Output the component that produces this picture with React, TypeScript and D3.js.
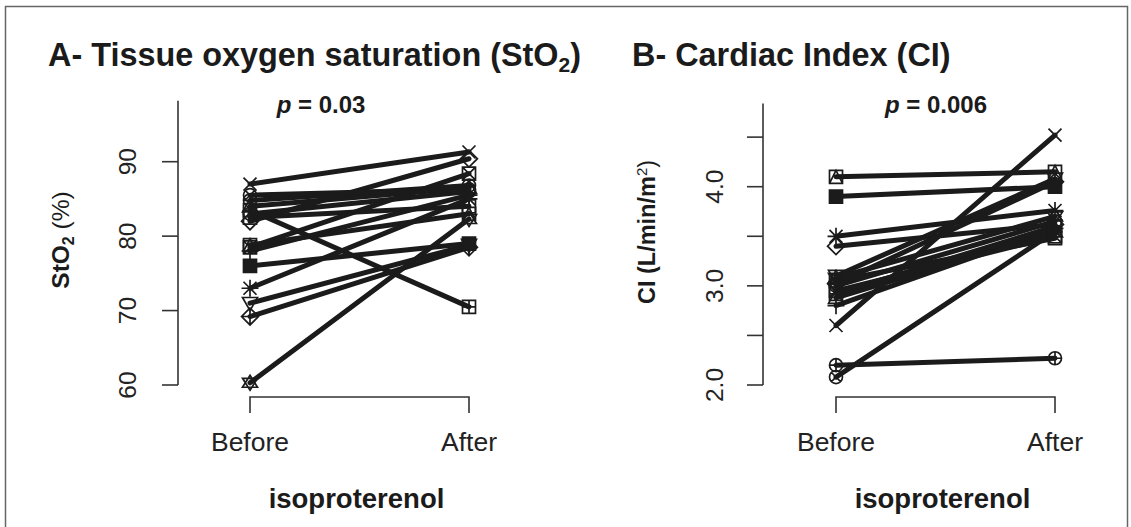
import { useEffect, useRef } from 'react';
import * as d3 from 'd3';

// conditions on the x axis
const conditions = ['Before', 'After'];

// A - tissue oxygen saturation (%), one entry per patient
const stoBefore = [82.5, 83.0, 84.0, 78.0, 87.0, 82.0, 71.0, 78.5, 73.0, 69.2, 84.8, 60.3, 83.5, 85.5, 78.8, 76.0];
const stoAfter = [84.0, 86.0, 86.5, 85.5, 91.3, 90.4, 78.8, 88.4, 85.0, 78.5, 86.8, 82.3, 70.5, 86.3, 83.0, 79.0];
const stoTicks = [60, 70, 80, 90];

// B - cardiac index (L/min/m2)
const ciBefore = [3.05, 3.0, 2.88, 2.8, 2.6, 3.4, 3.1, 2.95, 3.5, 3.02, 2.2, 3.08, 2.92, 2.08, 4.1, 3.9];
const ciAfter = [3.48, 3.65, 3.55, 3.58, 4.52, 3.62, 4.08, 3.5, 3.76, 4.05, 2.27, 3.7, 3.6, 3.55, 4.15, 4.0];
const ciTicks = [2, 2.5, 3, 3.5, 4, 4.5];
const ciTickLabels = ['2.0', '', '3.0', '', '4.0', ''];

// R plotting symbol per patient
const pchs = d3.range(16);

const FONT = '"Liberation Sans", Arial, Helvetica, sans-serif';
const INK = '#1b1b1b';

// outline of an R pch symbol centred on 0,0
const symbolPath = (pch, s) => {
  const sq = `M${-s},${-s}H${s}V${s}H${-s}Z`;
  const circ = `M${s},0A${s},${s} 0 1,1 ${-s},0A${s},${s} 0 1,1 ${s},0Z`;
  const t = s * 1.15;
  const triUp = `M0,${-t}L${t},${t * 0.75}L${-t},${t * 0.75}Z`;
  const triDown = `M0,${t}L${t},${-t * 0.75}L${-t},${-t * 0.75}Z`;
  const plus = `M${-s * 1.3},0H${s * 1.3}M0,${-s * 1.3}V${s * 1.3}`;
  const cross = `M${-s},${-s}L${s},${s}M${-s},${s}L${s},${-s}`;
  const d = s * 1.3;
  const diamond = `M0,${-d}L${d},0L0,${d}L${-d},0Z`;
  switch (pch) {
    case 0: return sq;
    case 1: return circ;
    case 2: return triUp;
    case 3: return plus;
    case 4: return cross;
    case 5: return diamond;
    case 6: return triDown;
    case 7: return sq + cross;
    case 8: return plus + cross;
    case 9: return diamond + `M${-d},0H${d}M0,${-d}V${d}`;
    case 10: return circ + `M${-s},0H${s}M0,${-s}V${s}`;
    case 11: return `M0,${-t}L${t},${t * 0.6}L${-t},${t * 0.6}Z` + `M0,${t}L${t},${-t * 0.6}L${-t},${-t * 0.6}Z`;
    case 12: return sq + `M${-s},0H${s}M0,${-s}V${s}`;
    case 13: return circ + `M${-s * 0.7},${-s * 0.7}L${s * 0.7},${s * 0.7}M${-s * 0.7},${s * 0.7}L${s * 0.7},${-s * 0.7}`;
    case 14: return sq + `M${-s},${s}L0,${-s}L${s},${s}`;
    default: return sq;
  }
};

const drawPanel = (g, opt) => {
  const { x, y, before, after, ticks, tickLabels, axisTop, axisX, tickLabelX } = opt;

  // y axis
  g.append('line')
    .attr('x1', axisX).attr('x2', axisX)
    .attr('y1', y(axisTop)).attr('y2', y(ticks[0]))
    .attr('stroke', '#333').attr('stroke-width', 1.6);
  g.selectAll('.ytick').data(ticks).enter().append('line')
    .attr('x1', axisX).attr('x2', axisX - 16)
    .attr('y1', d => y(d)).attr('y2', d => y(d))
    .attr('stroke', '#333').attr('stroke-width', 1.6);
  g.selectAll('.ylab').data(ticks).enter().append('text')
    .attr('transform', d => `translate(${tickLabelX},${y(d)}) rotate(-90)`)
    .attr('dy', '0.35em')
    .attr('text-anchor', 'middle')
    .attr('font-size', 24.5)
    .attr('fill', '#222')
    .text((d, i) => tickLabels[i]);

  // x axis
  const [x0, x1] = [x(0), x(1)];
  g.append('path')
    .attr('d', `M${x0},413V397H${x1}V413`)
    .attr('fill', 'none').attr('stroke', '#333').attr('stroke-width', 1.6);
  g.selectAll('.xlab').data(conditions).enter().append('text')
    .attr('x', (d, i) => x(i)).attr('y', 451)
    .attr('text-anchor', 'middle')
    .attr('font-size', 26.5)
    .attr('fill', '#222')
    .text(d => d);
  g.append('text')
    .attr('x', (x0 + x1) / 2 - 3).attr('y', 508)
    .attr('text-anchor', 'middle')
    .attr('font-size', 27.5).attr('font-weight', 'bold')
    .attr('fill', INK)
    .text('isoproterenol');

  // patient lines
  const line = d3.line().x((d, i) => x(i)).y(d => y(d));
  before.forEach((b, i) => {
    g.append('path')
      .datum([b, after[i]])
      .attr('d', line)
      .attr('fill', 'none')
      .attr('stroke', INK)
      .attr('stroke-width', 5)
      .attr('stroke-linecap', 'round');
  });

  // symbols at both ends
  before.forEach((b, i) => {
    [b, after[i]].forEach((v, k) => {
      g.append('path')
        .attr('transform', `translate(${x(k)},${y(v)})`)
        .attr('d', symbolPath(pchs[i], 6.5))
        .attr('fill', pchs[i] === 15 ? INK : 'none')
        .attr('stroke', INK)
        .attr('stroke-width', 1.7);
    });
  });
};

const App = () => {
  const svgRef = useRef();

  useEffect(() => {
    const svg = d3.select(svgRef.current);
    svg.selectAll('*').remove();

    svg.append('rect')
      .attr('x', 5.5).attr('y', 6.5)
      .attr('width', 1122).attr('height', 600)
      .attr('fill', 'none').attr('stroke', '#666').attr('stroke-width', 1.5);

    const g = svg.append('g').attr('font-family', FONT);

    // Panel A
    const xA = d3.scaleLinear().domain([0, 1]).range([250, 469]);
    const yA = d3.scaleLinear().domain([60, 90]).range([385, 161.7]);
    drawPanel(g, {
      x: xA, y: yA, before: stoBefore, after: stoAfter,
      ticks: stoTicks, tickLabels: stoTicks.map(String),
      axisTop: 98.2, axisX: 178, tickLabelX: 127,
    });

    const tA = g.append('text').attr('x', 48).attr('y', 66)
      .attr('font-size', 32.4).attr('font-weight', 'bold').attr('fill', INK);
    tA.append('tspan').text('A- Tissue oxygen saturation (StO');
    tA.append('tspan').attr('font-size', 21).attr('dy', 6).text('2');
    tA.append('tspan').attr('dy', -6).text(')');

    const pA = g.append('text').attr('x', 321).attr('y', 113)
      .attr('text-anchor', 'middle')
      .attr('font-size', 24).attr('font-weight', 'bold').attr('fill', INK);
    pA.append('tspan').attr('font-style', 'italic').text('p');
    pA.append('tspan').text(' = 0.03');

    const yl = g.append('text')
      .attr('transform', 'translate(60,240) rotate(-90)')
      .attr('dy', '0.35em')
      .attr('text-anchor', 'middle')
      .attr('font-size', 24.5).attr('font-weight', 'bold').attr('fill', INK);
    yl.append('tspan').text('StO');
    yl.append('tspan').attr('font-size', 16).attr('dy', 5).text('2');
    yl.append('tspan').attr('dy', -5).attr('font-weight', 'normal').text(' (%)');

    // Panel B
    const xB = d3.scaleLinear().domain([0, 1]).range([836, 1055]);
    const yB = d3.scaleLinear().domain([2, 4]).range([385, 186.7]);
    drawPanel(g, {
      x: xB, y: yB, before: ciBefore, after: ciAfter,
      ticks: ciTicks, tickLabels: ciTickLabels,
      axisTop: 4.84, axisX: 763, tickLabelX: 714,
    });

    g.append('text').attr('x', 632).attr('y', 66)
      .attr('font-size', 32.4).attr('font-weight', 'bold').attr('fill', INK)
      .text('B- Cardiac Index (CI)');

    const pB = g.append('text').attr('x', 936).attr('y', 113)
      .attr('text-anchor', 'middle')
      .attr('font-size', 24).attr('font-weight', 'bold').attr('fill', INK);
    pB.append('tspan').attr('font-style', 'italic').text('p');
    pB.append('tspan').text(' = 0.006');

    const yl2 = g.append('text')
      .attr('transform', 'translate(647,232) rotate(-90)')
      .attr('dy', '0.35em')
      .attr('text-anchor', 'middle')
      .attr('font-size', 23.5).attr('font-weight', 'bold').attr('fill', INK);
    yl2.append('tspan').text('CI (L/min/m');
    yl2.append('tspan').attr('font-size', 15).attr('dy', -8).attr('font-weight', 'normal').text('2');
    yl2.append('tspan').attr('dy', 8).attr('font-weight', 'normal').text(')');
  }, []);

  return (
    <svg
      ref={svgRef}
      width={1131}
      height={527}
      style={{ position: 'absolute', left: 0, top: 0, background: '#fff' }}
    />
  );
};

export default App;
